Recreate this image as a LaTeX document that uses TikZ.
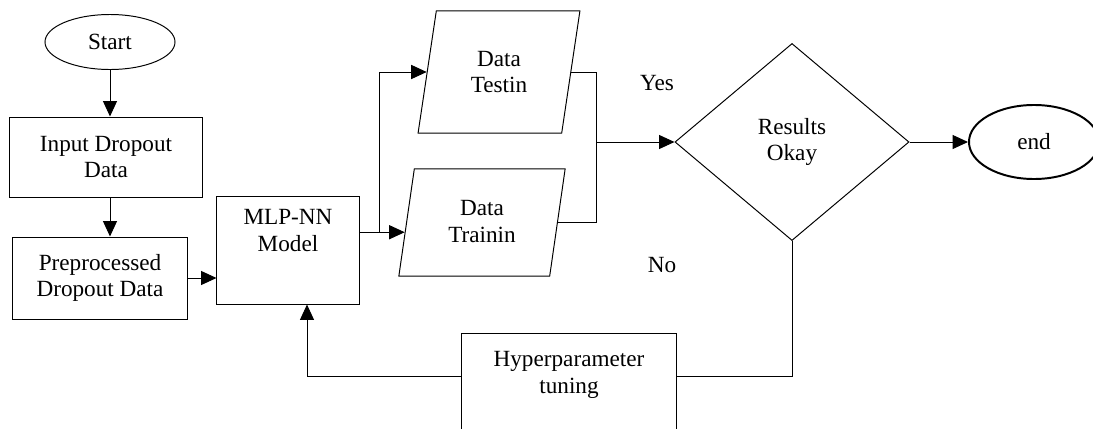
\documentclass[tikz,border=0pt]{standalone}
\usepackage{fontspec}
\setmainfont{Liberation Serif}
\usetikzlibrary{shapes.geometric,arrows.meta,calc}
\begin{document}
\begin{tikzpicture}[x=0.025cm,y=-0.025cm,
  base/.style={draw,line width=0.7pt,inner sep=0pt,align=center,font=\fontsize{16.5}{19}\selectfont},
  box/.style={base,rectangle},
  oval/.style={base,ellipse},
  io/.style={base,trapezium,trapezium left angle=79,trapezium right angle=101,trapezium stretches=true},
  decision/.style={base,diamond},
  line/.style={line width=0.7pt},
  arr/.style={line,-{Triangle[length=11pt,width=10pt]}},
  lbl/.style={font=\fontsize{16.5}{19}\selectfont,inner sep=0pt}]
\useasboundingbox (0,0) rectangle (1093,428);

\node[oval, minimum width=3.25cm, minimum height=1.375cm] (start) at (110,42) {Start};
\node[box, minimum width=4.8cm, minimum height=2.0cm] (input) at (106,157) {Input Dropout\\Data};
\node[box, minimum width=4.35cm, minimum height=2.05cm] (prep) at (100,278) {Preprocessed\\Dropout Data};
\node[box, minimum width=3.55cm, minimum height=2.675cm] (mlp) at (288,250.5) {MLP-NN\\Model\\[10pt]\mbox{}};
\node[io, minimum width=4.05cm, minimum height=3.05cm] (testin) at (499,72) {Data\\Testin};
\node[io, minimum width=4.175cm, minimum height=2.675cm] (trainin) at (482,222.5) {\mbox{}\\[-10pt]Data\\Trainin};
\node[decision, minimum width=5.85cm, minimum height=4.925cm] (dec) at (792,142) {Results\\Okay};
\node[oval, line width=1.4pt, minimum width=3.25cm, minimum height=1.85cm] (endn) at (1034,142) {end};
\node[box, minimum width=5.35cm, minimum height=2.8cm] (hyper) at (569,390) {Hyperparameter\\tuning\\[6pt]\mbox{}};

\node[lbl] (yes) at (657,83) {Yes};
\node[lbl] (no) at (662,265) {No};

% connectors
\draw[arr] (start.south) -- (start.south |- input.north);
\draw[arr] (start.south |- input.south) -- (start.south |- prep.north);
\draw[arr] (prep.east) -- (mlp.west |- prep.east);

\coordinate (tin) at ($(trainin.bottom left corner)!0.41!(trainin.top left corner)$);
\coordinate (br) at ($(mlp.east |- tin)+(20,0)$);
\draw[arr] (mlp.east |- tin) -- (tin);
\draw[arr] (br) |- (testin.left side);

\coordinate (j) at ($(dec.west)+(-78,0)$);
\draw[line] (testin.right side) -| (j) |- (trainin.right side);
\draw[arr] (j) -- (dec.west);
\draw[arr] (dec.east) -- (endn.west);

\coordinate (hy) at ($(hyper.north)+(0,43)$);
\coordinate (mlpin) at ($(mlp.south)+(19,0)$);
\draw[line] (dec.south) |- (hyper.east |- hy);
\draw[arr] (hyper.west |- hy) -| (mlpin);
\end{tikzpicture}
\end{document}
